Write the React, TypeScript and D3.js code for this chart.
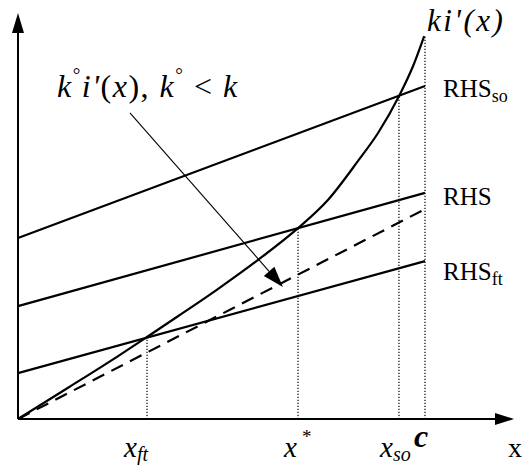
import React from 'react';
import * as d3 from 'd3';

// curve ki'(x) (x: 0..100 = 0..c)
const curveX = [0, 12.3, 24.6, 31.7, 39.3, 49.1, 59.0, 68.8, 76.2, 83.5, 88.5, 93.6, 97.1, 99.8];
const curveY = [0, 7.7, 15.5, 20.2, 25.3, 32.0, 39.2, 47.0, 54.0, 63.5, 70.5, 79.5, 87.0, 94.3];

// straight lines: value at x = 0 and at x = c
const lineNames = ['RHSso', 'RHS', 'RHSft'];
const lineStart = [44.6, 27.8, 11.3];
const lineEnd = [82.0, 55.7, 38.9];
const dashedEnd = 51.7; // k°i'(x)

// dotted drop lines: x_ft, x*, x_so, c
const markX = [31.7, 68.8, 93.6, 100];
const markTop = [20.2, 47.0, 79.5, 94.3];

// annotation arrow (from label to dashed curve)
const arrowFrom = [27.5, 75.4];
const arrowTo = [65.1, 32.5];

const W = 523;
const H = 465;
const serif = { fontFamily: "'Liberation Serif', 'Times New Roman', serif" };

const App = () => {
  const x = d3.scaleLinear().domain([0, 100]).range([18, 425]);
  const y = d3.scaleLinear().domain([0, 100]).range([419, 13]);
  const xEnd = x.invert(514);
  const yEnd = y.invert(13);

  const curve = d3.line<number>()
    .x((d, i) => x(curveX[i]))
    .y((d, i) => y(curveY[i]))
    .curve(d3.curveMonotoneX)(curveX);

  const ax = x(arrowFrom[0]), ay = y(arrowFrom[1]);
  const bx = x(arrowTo[0]), by = y(arrowTo[1]);
  const ang = Math.atan2(by - ay, bx - ax);
  const hl = 21, hw = 7;
  const baseX = bx - hl * Math.cos(ang), baseY = by - hl * Math.sin(ang);
  const px = -Math.sin(ang) * hw, py = Math.cos(ang) * hw;

  return (
    <svg width={W} height={H} style={{ position: 'absolute', left: 0, top: 0, background: '#fff' }}>
      {/* axes */}
      <line x1={x(0)} y1={y(0)} x2={x(xEnd) - 16} y2={y(0)} stroke="#000" strokeWidth={2} />
      <polygon points={`${x(xEnd)},${y(0)} ${x(xEnd) - 19},${y(0) - 6} ${x(xEnd) - 19},${y(0) + 6}`} fill="#000" />
      <line x1={x(0)} y1={y(0)} x2={x(0)} y2={y(yEnd) + 16} stroke="#000" strokeWidth={2} />
      <polygon points={`${x(0)},${y(yEnd)} ${x(0) - 6},${y(yEnd) + 20} ${x(0) + 6},${y(yEnd) + 20}`} fill="#000" />

      {/* dotted drop lines */}
      {markX.map((m, i) => (
        <line key={i} x1={x(m)} x2={x(m)} y1={y(0)} y2={y(markTop[i])}
          stroke="#000" strokeWidth={1.2} strokeDasharray="1.2 1.8" />
      ))}

      {/* RHS lines */}
      {lineNames.map((n, i) => (
        <line key={n} x1={x(0)} y1={y(lineStart[i])} x2={x(100)} y2={y(lineEnd[i])}
          stroke="#000" strokeWidth={2.2} />
      ))}

      {/* dashed k°i'(x) */}
      <line x1={x(0)} y1={y(0)} x2={x(100)} y2={y(dashedEnd)} stroke="#000" strokeWidth={2.2}
        strokeDasharray="13 8" />

      {/* ki'(x) */}
      <path d={curve || ''} fill="none" stroke="#000" strokeWidth={2.2} />

      {/* arrow */}
      <line x1={ax} y1={ay} x2={baseX} y2={baseY} stroke="#000" strokeWidth={1.1} />
      <polygon points={`${bx},${by} ${baseX + px},${baseY + py} ${baseX - px},${baseY - py}`} fill="#000" />

      {/* labels */}
      <text x={427} y={31} fontSize={31} fontStyle="italic" letterSpacing={2.5} style={serif}>ki'(x)</text>
      <text x={443} y={97} fontSize={25} style={serif}>RHS<tspan fontSize={18} dy={5}>so</tspan></text>
      <text x={443} y={205} fontSize={25} style={serif}>RHS</text>
      <text x={443} y={280} fontSize={25} style={serif}>RHS<tspan fontSize={18} dy={5}>ft</tspan></text>

      <text x={57} y={97} fontSize={32} letterSpacing={1.5} style={serif}>
        <tspan fontStyle="italic">k</tspan>
        <tspan fontSize={19} dy={-16}>°</tspan>
        <tspan dy={16} fontStyle="italic">i'</tspan>
        <tspan>(</tspan><tspan fontStyle="italic">x</tspan><tspan>), </tspan>
        <tspan fontStyle="italic">k</tspan>
        <tspan fontSize={19} dy={-16}>°</tspan>
        <tspan dy={16}> &lt; </tspan>
        <tspan fontStyle="italic">k</tspan>
      </text>

      <text x={124} y={457} fontSize={29} fontStyle="italic" style={serif}>x<tspan fontSize={20} dy={4}>ft</tspan></text>
      <text x={284} y={457} fontSize={29} fontStyle="italic" style={serif}>x</text>
      <text x={302} y={443} fontSize={19} style={serif}>*</text>
      <text x={380} y={457} fontSize={29} fontStyle="italic" style={serif}>x<tspan fontSize={20} dy={4}>so</tspan></text>
      <text x={414} y={447} fontSize={32} fontStyle="italic" fontWeight="bold" style={serif}>c</text>
      <text x={508} y={457} fontSize={28} style={serif}>x</text>
    </svg>
  );
};

export default App;
